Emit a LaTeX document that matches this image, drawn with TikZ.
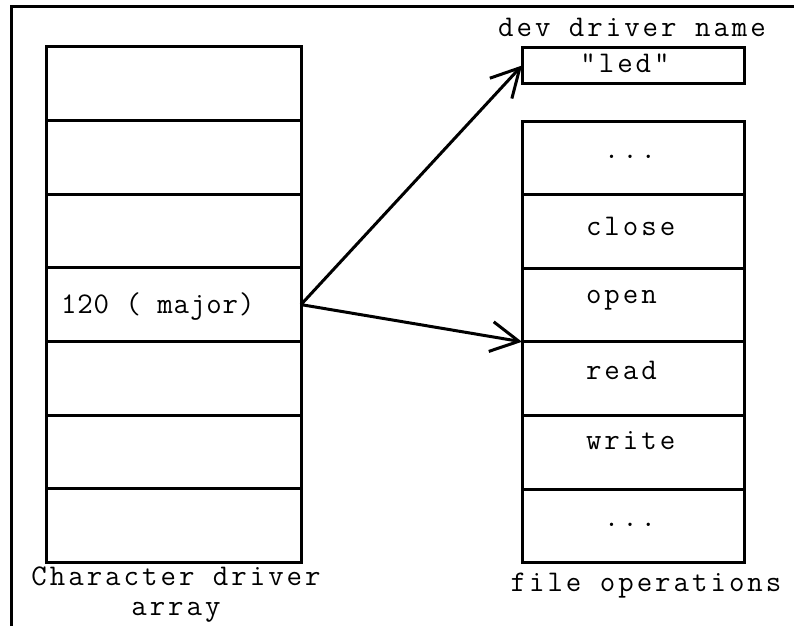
\documentclass[tikz,border=0pt]{standalone}
\usepackage{fontspec}
\newfontfamily\codefont{Latin Modern Mono}[LetterSpace=10]
\newfontfamily\codefontn{Latin Modern Mono}[LetterSpace=3]
\usetikzlibrary{arrows.meta}
\tikzset{
  cell/.style={draw, line width=3pt, inner sep=0pt, outer sep=0pt, minimum height=73.6pt},
  leftcell/.style={cell, minimum width=255pt},
  rightcell/.style={cell, minimum width=222pt},
  codetext/.style={font=\codefont\fontsize{30}{30}\selectfont, inner sep=0pt, outer sep=0pt},
  ptr/.style={line width=3pt, -{Straight Barb[length=28pt, width=30pt, line width=3pt]}},
}
\begin{document}
\begin{tikzpicture}[x=1pt, y=-1pt]
  \useasboundingbox (0,0) rectangle (794,626);
  % frame edges
  \draw[line width=3pt] (11,626) -- (11,7) -- (794,7);

  % character driver array
  \foreach \i/\yc in {1/83.8, 2/157.4, 3/231, 4/304.6, 5/378.2, 6/451.8, 7/525.4}
    \node[leftcell] (L\i) at (173.5,\yc) {};
  \node[codetext, font=\codefontn\fontsize{30}{30}\selectfont, anchor=base west] (major) at (61,313) {120 ( major)};
  \node[codetext, align=center, anchor=north] (chartitle) at (176,567) {Character driver\\array};

  % device name
  \node[cell, minimum width=222pt, minimum height=35pt] (led) at (633,65.5) {};
  \node[codetext, anchor=base] (ledtext) at (625,72) {"led"};
  \node[codetext, anchor=base] (nametitle) at (632,37) {dev driver name};

  % file operations table
  \foreach \i/\yc in {1/157.8, 2/231.4, 3/305, 4/378.6, 5/452.2, 6/525.8}
    \node[rightcell] (R\i) at (633,\yc) {};
  \node[codetext, anchor=base] (dotsa) at (630,158) {...};
  \node[codetext, anchor=base west] (close) at (586,235) {close};
  \node[codetext, anchor=base west] (open) at (586,303) {open};
  \node[codetext, anchor=base west] (read) at (586,379) {read};
  \node[codetext, anchor=base west] (write) at (586,449) {write};
  \node[codetext, anchor=base] (dotsb) at (630,526) {...};
  \node[codetext, anchor=base] (fopstitle) at (646,591) {file operations};

  % pointers from the major entry
  \draw[ptr] (L4.east) -- (led.west);
  \draw[ptr] (L4.east) -- (R3.south west);
\end{tikzpicture}
\end{document}
